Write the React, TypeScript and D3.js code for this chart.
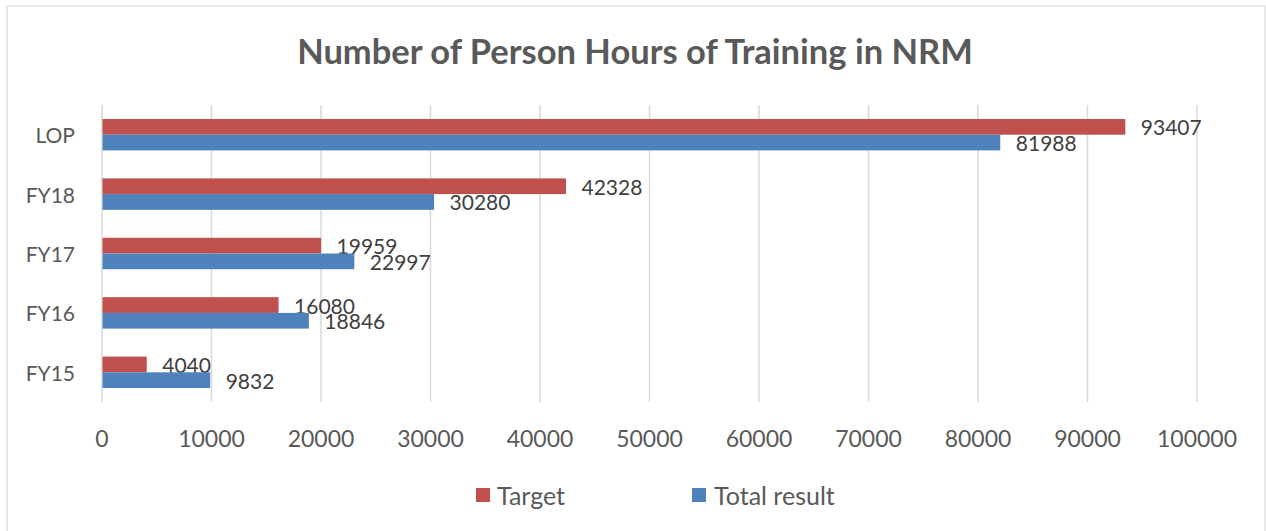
import React from 'react';
import * as d3 from 'd3';

const categories = ['LOP', 'FY18', 'FY17', 'FY16', 'FY15'];
const seriesNames = ['Target', 'Total result'];
const targetValues = [93407, 42328, 19959, 16080, 4040];
const totalValues = [81988, 30280, 22997, 18846, 9832];
const xTicks = [0, 10000, 20000, 30000, 40000, 50000, 60000, 70000, 80000, 90000, 100000];
const colors = ['#C0504D', '#4F81BD'];

const width = 1266;
const height = 531;
const margin = { top: 105, right: 69, bottom: 129, left: 102 };
const font = 'Lato, "Open Sans", sans-serif';
const textColor = '#595959';

export default function App() {
  const xScale = d3.scaleLinear()
    .domain([0, 100000])
    .range([margin.left, width - margin.right]);

  const yScale = d3.scaleBand()
    .domain(categories)
    .range([margin.top, height - margin.bottom])
    .paddingInner(0.471)
    .paddingOuter(0.2355);

  const innerScale = d3.scaleBand()
    .domain(seriesNames)
    .range([0, yScale.bandwidth()]);

  const seriesData = [targetValues, totalValues];

  return (
    <svg width={width} height={height} style={{ position: 'absolute', left: 0, top: 0 }}>
      <rect x={0} y={0} width={width} height={height} fill="#fff" />
      <rect x={7} y={6} width={1258} height={540} fill="none" stroke="#d9d9d9" strokeWidth={1.2} />

      <text x={635} y={50} textAnchor="middle" dominantBaseline="central"
        fontFamily={font} fontWeight="bold" fontSize={34.5} fill={textColor}>
        Number of Person Hours of Training in NRM
      </text>

      {/* gridlines */}
      {xTicks.map(t => (
        <line key={t} x1={xScale(t)} x2={xScale(t)} y1={margin.top} y2={height - margin.bottom}
          stroke="#d9d9d9" strokeWidth={1.5} />
      ))}

      {/* bars */}
      {seriesNames.map((name, si) => (
        <g key={name}>
          {categories.map((c, i) => {
            const v = seriesData[si][i];
            const y = (yScale(c) ?? 0) + (innerScale(name) ?? 0);
            return (
              <g key={c}>
                <rect x={xScale(0) + 0.5} y={y} width={xScale(v) - xScale(0)} height={innerScale.bandwidth()}
                  fill={colors[si]} />
                <text x={xScale(v) + 16} y={y + innerScale.bandwidth() / 2} dominantBaseline="central"
                  fontFamily={font} fontSize={21} fill="#404040">{v}</text>
              </g>
            );
          })}
        </g>
      ))}

      {/* category labels */}
      {categories.map(c => (
        <text key={c} x={75} y={(yScale(c) ?? 0) + yScale.bandwidth() / 2} textAnchor="end"
          dominantBaseline="central" fontFamily={font} fontSize={21} fill={textColor}>{c}</text>
      ))}

      {/* x tick labels */}
      {xTicks.map(t => (
        <text key={t} x={xScale(t)} y={438} textAnchor="middle" dominantBaseline="central"
          fontFamily={font} fontSize={23} fill={textColor}>{t}</text>
      ))}

      {/* legend */}
      <rect x={476} y={488} width={14} height={14} fill={colors[0]} />
      <text x={497} y={495} dominantBaseline="central" fontFamily={font} fontSize={25} fill={textColor}>{seriesNames[0]}</text>
      <rect x={692} y={488} width={14} height={14} fill={colors[1]} />
      <text x={714} y={495} dominantBaseline="central" fontFamily={font} fontSize={25} fill={textColor}>{seriesNames[1]}</text>
    </svg>
  );
}
